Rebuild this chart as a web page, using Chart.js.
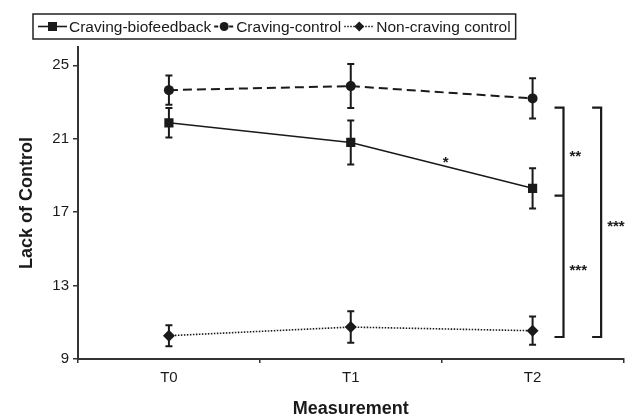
<!DOCTYPE html>
<html>
<head>
<meta charset="utf-8">
<script src="https://cdn.jsdelivr.net/npm/chart.js@4.4.1/dist/chart.umd.min.js"></script>
<style>
html,body{margin:0;padding:0;background:#fff;}
#wrap{width:630px;height:417px;position:relative;}
</style>
</head>
<body>
<div id="wrap"><canvas id="c" width="630" height="417"></canvas></div>
<script>
const categories = ['T0', 'T1', 'T2'];
const yTickValues = [9, 13, 17, 21, 25];
const seriesNames = ['Craving-biofeedback', 'Craving-control', 'Non-craving control'];
const bioValues = [21.87, 20.8, 18.3];
const bioErrors = [0.8, 1.2, 1.1];
const controlValues = [23.65, 23.87, 23.2];
const controlErrors = [0.8, 1.2, 1.1];
const nonCravingValues = [10.27, 10.74, 10.54];
const nonCravingErrors = [0.57, 0.86, 0.77];
// significance brackets (y values they span) and labels
const innerBracket = [22.7, 17.9, 10.2];
const innerLabels = ['**', '***'];
const outerBracket = [22.7, 10.2];
const outerLabel = '***';
const trendLabel = '*';

const INK = '#1a1a1a';
const FONT = '"Liberation Sans", Arial, sans-serif';

const errorsBySet = [bioErrors, controlErrors, nonCravingErrors];

const errorBarPlugin = {
  id: 'errorBars',
  beforeDatasetsDraw(chart) {
    const ctx = chart.ctx, y = chart.scales.y;
    ctx.save();
    ctx.strokeStyle = INK;
    ctx.lineWidth = 2;
    chart.data.datasets.forEach((ds, i) => {
      const meta = chart.getDatasetMeta(i);
      meta.data.forEach((pt, j) => {
        const v = ds.data[j], e = errorsBySet[i][j];
        const yt = y.getPixelForValue(v + e), yb = y.getPixelForValue(v - e);
        const x = pt.x;
        ctx.beginPath();
        ctx.moveTo(x, yt); ctx.lineTo(x, yb);
        ctx.moveTo(x - 3.5, yt); ctx.lineTo(x + 3.5, yt);
        ctx.moveTo(x - 3.5, yb); ctx.lineTo(x + 3.5, yb);
        ctx.stroke();
      });
    });
    ctx.restore();
  }
};

const annotPlugin = {
  id: 'annot',
  afterDraw(chart) {
    const ctx = chart.ctx, y = chart.scales.y, x = chart.scales.x;
    const xT2 = x.getPixelForValue(2);
    const cw = x.getPixelForValue(1) - x.getPixelForValue(0);
    ctx.save();
    ctx.strokeStyle = INK;
    ctx.fillStyle = INK;
    ctx.lineWidth = 2.2;
    // inner bracket
    const ix = xT2 + cw * 0.17, ixl = ix - 9;
    const it = y.getPixelForValue(innerBracket[0]);
    const im = y.getPixelForValue(innerBracket[1]);
    const ib = y.getPixelForValue(innerBracket[2]);
    ctx.beginPath();
    ctx.moveTo(ixl, it); ctx.lineTo(ix, it); ctx.lineTo(ix, ib); ctx.lineTo(ixl, ib);
    ctx.moveTo(ixl, im); ctx.lineTo(ix, im);
    ctx.stroke();
    // outer bracket
    const ox = xT2 + cw * 0.377, oxl = ox - 9;
    const ot = y.getPixelForValue(outerBracket[0]);
    const ob = y.getPixelForValue(outerBracket[1]);
    ctx.beginPath();
    ctx.moveTo(oxl, ot); ctx.lineTo(ox, ot); ctx.lineTo(ox, ob); ctx.lineTo(oxl, ob);
    ctx.stroke();
    ctx.font = 'bold 15px ' + FONT;
    ctx.textAlign = 'left';
    ctx.textBaseline = 'middle';
    ctx.fillText(innerLabels[0], ix + 6, (it + im) / 2 + 5);
    ctx.fillText(innerLabels[1], ix + 6, (im + ib) / 2 + 5);
    ctx.fillText(outerLabel, ox + 6, (ot + ob) / 2 + 5);
    // trend star between T1 and T2 on biofeedback line
    const xm = (x.getPixelForValue(1) + x.getPixelForValue(2)) / 2;
    const ym = y.getPixelForValue((bioValues[1] + bioValues[2]) / 2);
    ctx.textAlign = 'center';
    ctx.fillText(trendLabel, xm + 4, ym - 3);

    // legend
    ctx.font = '15.5px ' + FONT;
    ctx.textBaseline = 'middle';
    ctx.textAlign = 'left';
    const boxL = 33, boxT = 14, boxH = 25, cy = boxT + boxH / 2;
    let cx = boxL + 5;
    const sampleW = [29, 20, 30];
    chart.data.datasets.forEach((ds, i) => {
      const w = sampleW[i];
      ctx.save();
      ctx.strokeStyle = INK;
      ctx.lineWidth = ds.borderWidth;
      ctx.setLineDash(i === 0 ? [] : (i === 1 ? [4, 3.5] : [1.5, 1.5]));
      ctx.beginPath();
      ctx.moveTo(cx, cy); ctx.lineTo(cx + w, cy);
      ctx.stroke();
      ctx.setLineDash([]);
      const mx = cx + w / 2;
      ctx.fillStyle = INK;
      ctx.beginPath();
      if (ds.pointStyle === 'rect') ctx.rect(mx - 4.5, cy - 4.5, 9, 9);
      else if (ds.pointStyle === 'circle') ctx.arc(mx, cy, 4.5, 0, Math.PI * 2);
      else { ctx.moveTo(mx, cy - 5); ctx.lineTo(mx + 5, cy); ctx.lineTo(mx, cy + 5); ctx.lineTo(mx - 5, cy); ctx.closePath(); }
      ctx.fill();
      ctx.restore();
      cx += w + 2;
      ctx.fillStyle = INK;
      ctx.fillText(ds.label, cx, cy + 1);
      cx += ctx.measureText(ds.label).width + 3;
    });
    ctx.strokeStyle = '#222';
    ctx.lineWidth = 1.5;
    ctx.strokeRect(boxL, boxT, cx - boxL + 2, boxH);
    ctx.restore();
  }
};

new Chart(document.getElementById('c'), {
  type: 'line',
  data: {
    labels: categories,
    datasets: [
      { label: seriesNames[0], data: bioValues, borderColor: INK, backgroundColor: INK, borderWidth: 1.6,
        pointStyle: 'rect', pointRadius: 6.5, pointBorderWidth: 0, tension: 0 },
      { label: seriesNames[1], data: controlValues, borderColor: INK, backgroundColor: INK, borderWidth: 2,
        borderDash: [9, 5], pointStyle: 'circle', pointRadius: 5, pointBorderWidth: 0, tension: 0 },
      { label: seriesNames[2], data: nonCravingValues, borderColor: INK, backgroundColor: INK, borderWidth: 1.6,
        borderDash: [1.5, 1.5], pointStyle: 'rectRot', pointRadius: 6, pointBorderWidth: 0, tension: 0 }
    ]
  },
  options: {
    responsive: false,
    animation: false,
    layout: { padding: { top: 47, right: 0, left: 0, bottom: 0 } },
    plugins: { legend: { display: false }, tooltip: { enabled: false } },
    scales: {
      x: {
        offset: true,
        grid: { offset: true, drawOnChartArea: false, tickLength: 4, color: '#333', lineWidth: 1.5 },
        border: { color: '#333', width: 2 },
        ticks: { color: INK, font: { family: FONT, size: 15 }, padding: 6 },
        title: { display: true, text: 'Measurement', color: INK, font: { family: FONT, size: 18, weight: 'bold' }, padding: { top: 0, bottom: -3 } },
        afterFit(s) { s.height = 58; s.paddingLeft = 0; s.paddingRight = 0; }
      },
      y: {
        min: 9, max: 26,
        afterBuildTicks(s) { s.ticks = yTickValues.map(v => ({ value: v })); },
        grid: { drawOnChartArea: false, tickLength: 5, color: '#333', lineWidth: 1.5 },
        border: { color: '#333', width: 2 },
        ticks: { color: INK, font: { family: FONT, size: 15 }, padding: 4 },
        title: { display: true, text: 'Lack of Control', color: INK, font: { family: FONT, size: 18, weight: 'bold' }, padding: { top: 16, bottom: 0 } },
        afterFit(s) { s.width = 78; s.paddingTop = 0; s.paddingBottom = 0; }
      }
    }
  },
  plugins: [errorBarPlugin, annotPlugin]
});
</script>
</body>
</html>
